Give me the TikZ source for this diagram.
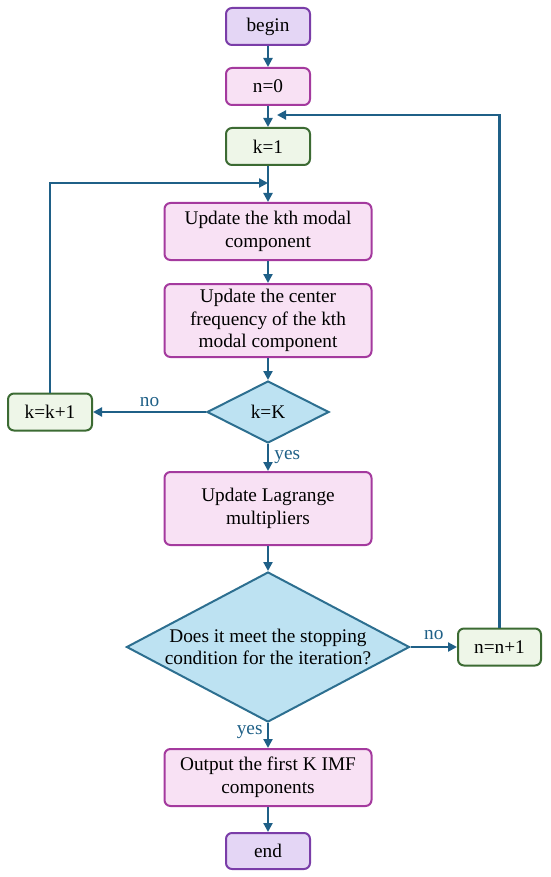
\documentclass[tikz,border=0pt]{standalone}
\usepackage{fontspec}
\setmainfont{Liberation Serif}
\usetikzlibrary{shapes.geometric,arrows.meta}
\definecolor{arrowc}{HTML}{1F6087}
\definecolor{termfill}{HTML}{E4D6F5}
\definecolor{termdraw}{HTML}{7A3DA8}
\definecolor{procfill}{HTML}{F8E1F4}
\definecolor{procdraw}{HTML}{A43A9E}
\definecolor{greenfill}{HTML}{EEF6E8}
\definecolor{greendraw}{HTML}{3C6B33}
\definecolor{decfill}{HTML}{BDE2F2}
\definecolor{decdraw}{HTML}{2D6F90}
\begin{document}
\begin{tikzpicture}[x=1pt,y=-1pt,
  font=\fontsize{19.3}{22.7}\selectfont,
  box/.style={rectangle, rounded corners=6pt, line width=2pt, align=center, inner sep=0pt},
  term/.style={box, fill=termfill, draw=termdraw, minimum width=84pt, minimum height=37pt},
  proc/.style={box, fill=procfill, draw=procdraw, minimum width=207pt},
  counter/.style={box, fill=greenfill, draw=greendraw, minimum width=84pt, minimum height=37pt},
  dec/.style={diamond, fill=decfill, draw=decdraw, line width=2pt, inner sep=0pt, align=center},
  arr/.style={draw=arrowc, line width=2.2pt, -{Triangle[length=9pt,width=9pt]}},
  lab/.style={text=arrowc}]
\useasboundingbox (0,0) rectangle (550,877);
\node[term] (begin) at (268,26.5) {begin};
\node[proc, minimum width=84pt, minimum height=37pt] (n0) at (268,86.5) {n=0};
\node[counter] (k1) at (268,146.5) {k=1};
\node[proc, minimum height=57pt] (upd1) at (268,231.5) {Update the kth modal\\component};
\node[proc, minimum height=73pt] (upd2) at (268,320.5) {Update the center\\frequency of the kth\\modal component};
\node[dec, minimum width=122pt, minimum height=62pt, aspect=2] (dk) at (268,412) {k=K};
\node[counter] (kk) at (50,412) {k=k+1};
\node[proc, minimum height=73pt] (lag) at (268,508.5) {Update Lagrange\\multipliers};
\node[dec, minimum width=283pt, minimum height=150pt, aspect=1.89] (dstop) at (268,647) {Does it meet the stopping\\condition for the iteration?};
\node[counter, minimum width=83pt] (nn) at (499.5,647) {n=n+1};
\node[proc, minimum height=57pt] (out) at (268,777.5) {Output the first K IMF\\components};
\node[term, minimum height=36pt] (end) at (268,851) {end};
\draw[arr] (begin) -- (n0);
\draw[arr] (n0) -- (k1);
\draw[arr] (k1) -- (upd1);
\draw[arr] (upd1) -- (upd2);
\draw[arr] (upd2) -- (dk);
\draw[arr] (dk) -- node[lab, above, yshift=1pt] {no} (kk);
\draw[arr] (dk) -- node[lab, right, xshift=2pt] {yes} (lag);
\draw[arr] (lag) -- (dstop);
\draw[arr] (dstop) -- node[lab, above, yshift=3pt] {no} (nn);
\draw[arr] (dstop) -- node[lab, left, xshift=-1pt, yshift=3pt] {yes} (out);
\draw[arr] (out) -- (end);
\coordinate (t1) at (277,115);
\draw[arr] (nn.north) |- (t1);
\coordinate (t2) at (268,183);
\draw[arr] (kk.north) |- (t2);
\end{tikzpicture}
\end{document}
